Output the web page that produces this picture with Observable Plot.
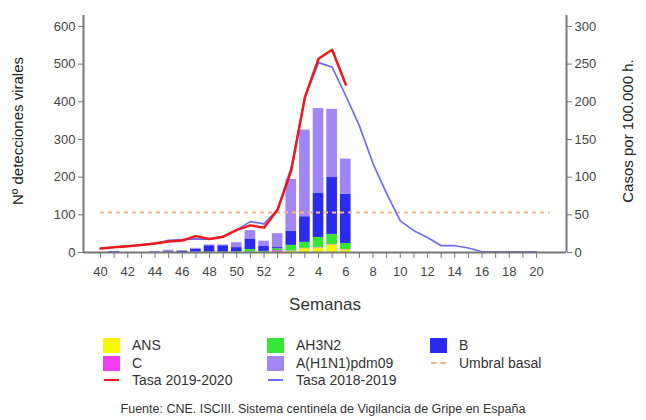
<!DOCTYPE html>
<html><head><meta charset="utf-8">
<script src="https://cdn.jsdelivr.net/npm/d3@7"></script>
<script src="https://cdn.jsdelivr.net/npm/@observablehq/plot@0.6"></script>
<style>
body{margin:0;background:#fff;font-family:"Liberation Sans",Arial,sans-serif;}
#wrap{width:646px;height:420px;position:relative;overflow:hidden;}
#chart{position:absolute;left:0;top:0;}
.lg{position:absolute;font-size:14px;color:#333;white-space:nowrap;}
.sw{position:absolute;}
#caption{position:absolute;left:0;width:646px;top:402px;text-align:center;font-size:12.5px;color:#333;}
</style></head><body>
<div id="wrap"><div id="chart"></div><div id="legend"></div><div id="caption">Fuente: CNE. ISCIII. Sistema centinela de Vigilancia de Gripe en España</div></div>
<script>
// weeks 40..52 then 1..20
const weeks = [40,41,42,43,44,45,46,47,48,49,50,51,52,1,2,3,4,5,6,7,8,9,10,11,12,13,14,15,16,17,18,19,20];
const weekTickLabels = [40,42,44,46,48,50,52,2,4,6,8,10,12,14,16,18,20];
// virus detections (weeks 40..6), stacked bottom to top
const seriesNames = ["ANS","C","AH3N2","B","A(H1N1)pdm09"];
const seriesColors = ["#f7f700","#f23cf2","#35e635","#2b2bf0","#a386f5"];
const ANS   = [0,0,0,0,0,0,0,0,0,0,0,0,0,1,3,10,12,20,7];
const C     = [0,0,0,0,0,0,0,0,0,0,0,1,0,4,1,1,1,1,1];
const AH3N2 = [0,0,0,0,0,0,0,1,1,1,2,7,3,5,15,16,27,27,16];
const B     = [0,2,0,0,1,2,3,8,17,17,11,28,13,3,38,68,118,151,131];
const H1N1  = [0,0,0,0,2,4,2,2,2,2,13,22,14,37,137,230,224,181,93];
// rates per 100.000 h.
const tasa2019_2020 = [5.3,7,8.4,10,12,14.6,16,21.7,18,21,30,36,33,57,109,206,257,269,223];
const tasa2018_2019 = [5.5,7,8.5,10,12,16,17,18,17.7,21,30,41,38,57,113,206,252,246,208,168,118,78,42,29,20,9,9,6,1,1,1,1,1];
const umbralBasal = 53;
const leftTicks = [0,100,200,300,400,500,600];
const rightTicks = [0,50,100,150,200,250,300];

const seriesValues = [ANS, C, AH3N2, B, H1N1];
const bars = [];
for (let i = 0; i < ANS.length; i++) {
  let acc = 0;
  seriesValues.forEach((arr, s) => {
    const v = arr[i];
    if (v > 0) bars.push({i, series: seriesNames[s], y1: acc, y2: acc + v});
    acc += v;
  });
}
const idx = weeks.map((w, i) => i);
const evenIdx = idx.filter(i => weekTickLabels.includes(weeks[i]));
const K = 2; // right axis = left / 2

const plot = Plot.plot({
  width: 646, height: 320,
  marginLeft: 83, marginRight: 80, marginTop: 15, marginBottom: 68,
  x: {domain: [-1.25, 34.2], axis: null},
  y: {domain: [0, 629], axis: null},
  color: {domain: seriesNames, range: seriesColors},
  style: {fontFamily: "Liberation Sans, Arial, sans-serif", fontSize: "13px", background: "white"},
  marks: [
    Plot.rect(bars, {x1: d => d.i - 0.39, x2: d => d.i + 0.39, y1: "y1", y2: "y2", fill: "series"}),
    Plot.ruleY([umbralBasal * K], {x1: 0, x2: 33, stroke: "#f8b287", strokeWidth: 2, strokeDasharray: "4,4"}),
    Plot.line(idx, {x: i => i, y: i => tasa2018_2019[i] * K, stroke: "#6d6df3", strokeWidth: 1.7}),
    Plot.line(idx.slice(0, tasa2019_2020.length), {x: i => i, y: i => tasa2019_2020[i] * K, stroke: "#f01818", strokeWidth: 2.5}),
    Plot.ruleY([0], {stroke: "#777", strokeWidth: 2}),
    Plot.ruleX([-1.25, 34.2], {stroke: "#777", strokeWidth: 2}),
    Plot.axisY({anchor: "left", ticks: leftTicks, tickSize: 5, tickPadding: 3, stroke: "#777", fill: "#444", label: null}),
    Plot.axisY({anchor: "right", ticks: rightTicks.map(t => t * K), tickFormat: d => d / K, tickSize: 5, tickPadding: 3, stroke: "#777", fill: "#444", label: null}),
    Plot.axisX({ticks: idx, tickSize: 6, tickFormat: () => "", stroke: "#777", label: null}),
    Plot.axisX({ticks: evenIdx, tickSize: 0, tickPadding: 14, tickFormat: i => weeks[i], fill: "#444", label: null}),
    Plot.text(["Nº detecciones virales"], {frameAnchor: "left", dx: -65, dy: -3, rotate: -90, textAnchor: "middle", fontSize: 15, fill: "#222"}),
    Plot.text(["Casos por 100.000 h."], {frameAnchor: "right", dx: 62, dy: -3, rotate: -90, textAnchor: "middle", fontSize: 15, fill: "#222"}),
    Plot.text(["Semanas"], {frameAnchor: "bottom", dy: 57, fontSize: 17, fill: "#333"})
  ]
});
document.getElementById("chart").appendChild(plot);

// legend
const legendItems = [
  {label: "ANS", type: "box", color: seriesColors[0], col: 0, row: 0},
  {label: "AH3N2", type: "box", color: seriesColors[2], col: 1, row: 0},
  {label: "B", type: "box", color: seriesColors[3], col: 2, row: 0},
  {label: "C", type: "box", color: seriesColors[1], col: 0, row: 1},
  {label: "A(H1N1)pdm09", type: "box", color: seriesColors[4], col: 1, row: 1},
  {label: "Umbral basal", type: "dash", color: "#f8b287", col: 2, row: 1},
  {label: "Tasa 2019-2020", type: "line", color: "#f01818", col: 0, row: 2},
  {label: "Tasa 2018-2019", type: "line", color: "#6d6df3", col: 1, row: 2}
];
const colX = [103, 267, 430];
const rowY = [345, 363, 380];
const lg = document.getElementById("legend");
legendItems.forEach(it => {
  const sw = document.createElement("div");
  sw.className = "sw";
  const x = colX[it.col], y = rowY[it.row];
  if (it.type === "box") {
    Object.assign(sw.style, {left: x + "px", top: (y - 7.5) + "px", width: "17px", height: "15px", background: it.color});
  } else if (it.type === "line") {
    Object.assign(sw.style, {left: (x + 1) + "px", top: (y - 1) + "px", width: "15px", height: "2px", background: it.color});
  } else {
    Object.assign(sw.style, {left: (x + 1) + "px", top: (y - 1) + "px", width: "15px", height: "0", borderTop: "2px dashed " + it.color});
  }
  lg.appendChild(sw);
  const t = document.createElement("div");
  t.className = "lg";
  t.textContent = it.label;
  Object.assign(t.style, {left: (x + 29) + "px", top: (y - 9) + "px", lineHeight: "18px"});
  lg.appendChild(t);
});
</script>
</body></html>
